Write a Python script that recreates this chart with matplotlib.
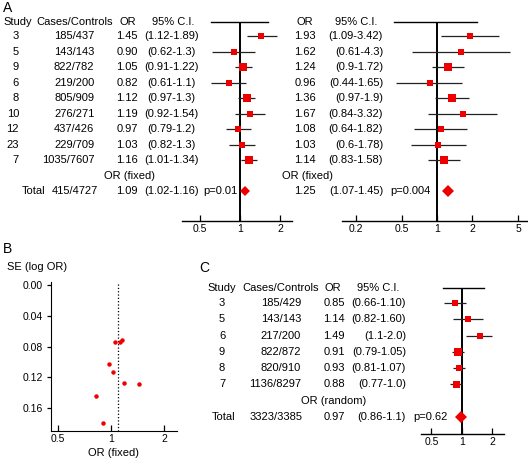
import matplotlib
matplotlib.use('Agg')
import matplotlib.pyplot as plt
from matplotlib.transforms import blended_transform_factory as btf
from matplotlib.ticker import NullLocator

plt.rcParams['font.family'] = ['Liberation Sans', 'DejaVu Sans']

# ---------------- data ----------------
studies_A = ['3', '5', '9', '6', '8', '10', '12', '23', '7']
cases_A = ['185/437', '143/143', '822/782', '219/200', '805/909', '276/271',
           '437/426', '229/709', '1035/7607']
# panel A, left
or_A1 = ['1.45', '0.90', '1.05', '0.82', '1.12', '1.19', '0.97', '1.03', '1.16']
lo_A1 = ['1.12', '0.62', '0.91', '0.61', '0.97', '0.92', '0.79', '0.82', '1.01']
hi_A1 = ['1.89', '1.3', '1.22', '1.1', '1.3', '1.54', '1.2', '1.3', '1.34']
total_A1 = {'cases': '415/4727', 'or': '1.09', 'lo': '1.02', 'hi': '1.16', 'p': 'p=0.01'}
# panel A, right
or_A2 = ['1.93', '1.62', '1.24', '0.96', '1.36', '1.67', '1.08', '1.03', '1.14']
or_A2_drawn = [1.93, 1.62, 1.24, 0.87, 1.36, 1.67, 1.08, 1.03, 1.14]
lo_A2 = ['1.09', '0.61', '0.9', '0.44', '0.97', '0.84', '0.64', '0.6', '0.83']
hi_A2 = ['3.42', '4.3', '1.72', '1.65', '1.9', '3.32', '1.82', '1.78', '1.58']
total_A2 = {'or': '1.25', 'lo': '1.07', 'hi': '1.45', 'p': 'p=0.004'}
# panel B (funnel plot)
se_B = [0.129, 0.180, 0.074, 0.144, 0.074, 0.127, 0.103, 0.113, 0.0715]
# panel C
studies_C = ['3', '5', '6', '9', '8', '7']
cases_C = ['185/429', '143/143', '217/200', '822/872', '820/910', '1136/8297']
or_C = ['0.85', '1.14', '1.49', '0.91', '0.93', '0.88']
lo_C = ['0.66', '0.82', '1.1', '0.79', '0.81', '0.77']
hi_C = ['1.10', '1.60', '2.0', '1.05', '1.07', '1.0']
total_C = {'cases': '3323/3385', 'or': '0.97', 'lo': '0.86', 'hi': '1.1', 'p': 'p=0.62'}

# ---------------- style ----------------
sq_A1 = [6.3, 6, 8.3, 5.8, 7.8, 5.8, 6.6, 5.8, 8.8]   # square widths (px)
sq_A2 = [6, 5.4, 7.4, 6.2, 7.6, 6, 5.2, 5.2, 7.6]
sq_C = [6.3, 5.2, 5.4, 7.3, 6.4, 7]
RED = '#ee0000'
FS = 8
W, H = 528, 459

fig = plt.figure(figsize=(W / 100, H / 100), dpi=100)


def add_ax(x0, y0, x1, y1):
    return fig.add_axes([x0 / W, 1 - y1 / H, (x1 - x0) / W, (y1 - y0) / H])


def forest(ax, xlim, ylim, ticks, bar, ors, los, his, sizes, tot_or, tot_w, tot_row):
    ax.set_xscale('log')
    ax.set_xlim(xlim)
    ax.set_ylim(ylim)
    ax.patch.set_alpha(0)
    for s in ['left', 'right', 'top']:
        ax.spines[s].set_visible(False)
    ax.spines['bottom'].set_linewidth(1.0)
    ax.set_yticks([])
    ax.set_xticks(ticks, [f'{t:g}' for t in ticks])
    ax.xaxis.set_minor_locator(NullLocator())
    ax.tick_params(axis='x', direction='in', length=4, width=0.9, labelsize=7.5, pad=2)
    ax.axvline(1, color='k', lw=1.4, zorder=2)
    ax.plot(bar, [ylim[1], ylim[1]], color='k', lw=1.0, clip_on=False)
    rows = list(range(len(ors)))
    ax.hlines(rows, [float(v) for v in los], [float(v) for v in his],
              color='#222222', lw=0.9, zorder=3)
    for r, o, s in zip(rows, ors, sizes):
        ax.plot(float(o), r, 's', ms=s * 0.72, color=RED, mec=RED, mew=0, zorder=4)
    ax.plot(float(tot_or), tot_row, 'D', ms=tot_w * 0.72 / 1.414, color=RED,
            mew=0, zorder=4)


def put(ax, xpx, row, s, ha='center', fs=FS):
    ax.text(xpx / W, row, s, transform=btf(fig.transFigure, ax.transData),
            ha=ha, va='center', fontsize=fs, clip_on=False)


# ---------------- Panel A left ----------------
axA1 = add_ax(182, 22, 292, 221)
forest(axA1, (0.366, 2.46), (11.9, -0.9), [0.5, 1, 2], (0.605, 1.62),
       or_A1, lo_A1, hi_A1, sq_A1, total_A1['or'], 9.3, 10)
put(axA1, 17.5, -0.9, 'Study')
put(axA1, 75, -0.9, 'Cases/Controls')
put(axA1, 128, -0.9, 'OR')
put(axA1, 173, -0.9, '95% C.I.')
for i in range(len(studies_A)):
    put(axA1, 19, i, studies_A[i], ha='right')
    put(axA1, 94.5, i, cases_A[i], ha='right')
    put(axA1, 138, i, or_A1[i], ha='right')
    put(axA1, 171.5, i, f'({lo_A1[i]}-{hi_A1[i]})')
put(axA1, 130, 9, 'OR (fixed)')
put(axA1, 45, 10, 'Total', ha='right')
put(axA1, 98, 10, total_A1['cases'], ha='right')
put(axA1, 138, 10, total_A1['or'], ha='right')
put(axA1, 171.5, 10, f"({total_A1['lo']}-{total_A1['hi']})")
put(axA1, 203, 10, total_A1['p'], ha='left')

# ---------------- Panel A right ----------------
axA2 = add_ax(342, 22, 527, 221)
forest(axA2, (0.152, 5.97), (11.9, -0.9), [0.2, 0.5, 1, 2, 5], (0.426, 2.21),
       or_A2_drawn, lo_A2, hi_A2, sq_A2, total_A2['or'], 11.7, 10)
put(axA2, 305, -0.9, 'OR')
put(axA2, 356, -0.9, '95% C.I.')
for i in range(len(studies_A)):
    put(axA2, 316, i, or_A2[i], ha='right')
    put(axA2, 383, i, f'({lo_A2[i]}-{hi_A2[i]})', ha='right')
put(axA2, 307, 9, 'OR (fixed)')
put(axA2, 316, 10, total_A2['or'], ha='right')
put(axA2, 383, 10, f"({total_A2['lo']}-{total_A2['hi']})", ha='right')
put(axA2, 390, 10, total_A2['p'], ha='left')

# ---------------- Panel B ----------------
axB = add_ax(51, 282, 177, 431)
axB.set_xscale('log')
axB.set_xlim(0.456, 2.37)
axB.set_ylim(0.1899, -0.0039)
for s in ['top', 'right']:
    axB.spines[s].set_visible(False)
axB.set_xticks([0.5, 1, 2], ['0.5', '1', '2'])
axB.xaxis.set_minor_locator(NullLocator())
axB.set_yticks([0, 0.04, 0.08, 0.12, 0.16], ['0.00', '0.04', '0.08', '0.12', '0.16'])
axB.tick_params(axis='x', direction='in', length=4, width=0.9, labelsize=7.5, pad=2)
axB.tick_params(axis='y', direction='out', length=3, width=0.9, labelsize=7.5, pad=3)
axB.axvline(float(total_A1['or']), color='k', ls=':', lw=0.9)
axB.plot([float(v) for v in or_A1], se_B, 'o', ms=3.2, color=RED, mew=0)
fig.text(114 / W, 1 - 453 / H, 'OR (fixed)', ha='center', va='center', fontsize=FS)
fig.text(7 / W, 1 - 267 / H, 'SE (log OR)', ha='left', va='center', fontsize=FS)

# ---------------- Panel C ----------------
axC = add_ax(421, 288, 504, 434)
forest(axC, (0.394, 2.6), (8.06, -0.94), [0.5, 1, 2], (0.649, 1.65),
       or_C, lo_C, hi_C, sq_C, total_C['or'], 12, 7)
put(axC, 222, -0.94, 'Study')
put(axC, 281, -0.94, 'Cases/Controls')
put(axC, 333, -0.94, 'OR')
put(axC, 378, -0.94, '95% C.I.')
for i in range(len(studies_C)):
    put(axC, 222, i, studies_C[i])
    put(axC, 301, i, cases_C[i], ha='right')
    put(axC, 345, i, or_C[i], ha='right')
    put(axC, 406, i, f'({lo_C[i]}-{hi_C[i]})', ha='right')
put(axC, 334, 6, 'OR (random)')
put(axC, 212, 7, 'Total', ha='left')
put(axC, 303, 7, total_C['cases'], ha='right')
put(axC, 345, 7, total_C['or'], ha='right')
put(axC, 406, 7, f"({total_C['lo']}-{total_C['hi']})", ha='right')
put(axC, 413, 7, total_C['p'], ha='left')

# ---------------- panel letters ----------------
fig.text(3 / W, 1 - 8 / H, 'A', fontsize=10, va='center', ha='left')
fig.text(3 / W, 1 - 249 / H, 'B', fontsize=10, va='center', ha='left')
fig.text(199 / W, 1 - 268.5 / H, 'C', fontsize=10, va='center', ha='left')

fig.savefig('out.png', dpi=100)
